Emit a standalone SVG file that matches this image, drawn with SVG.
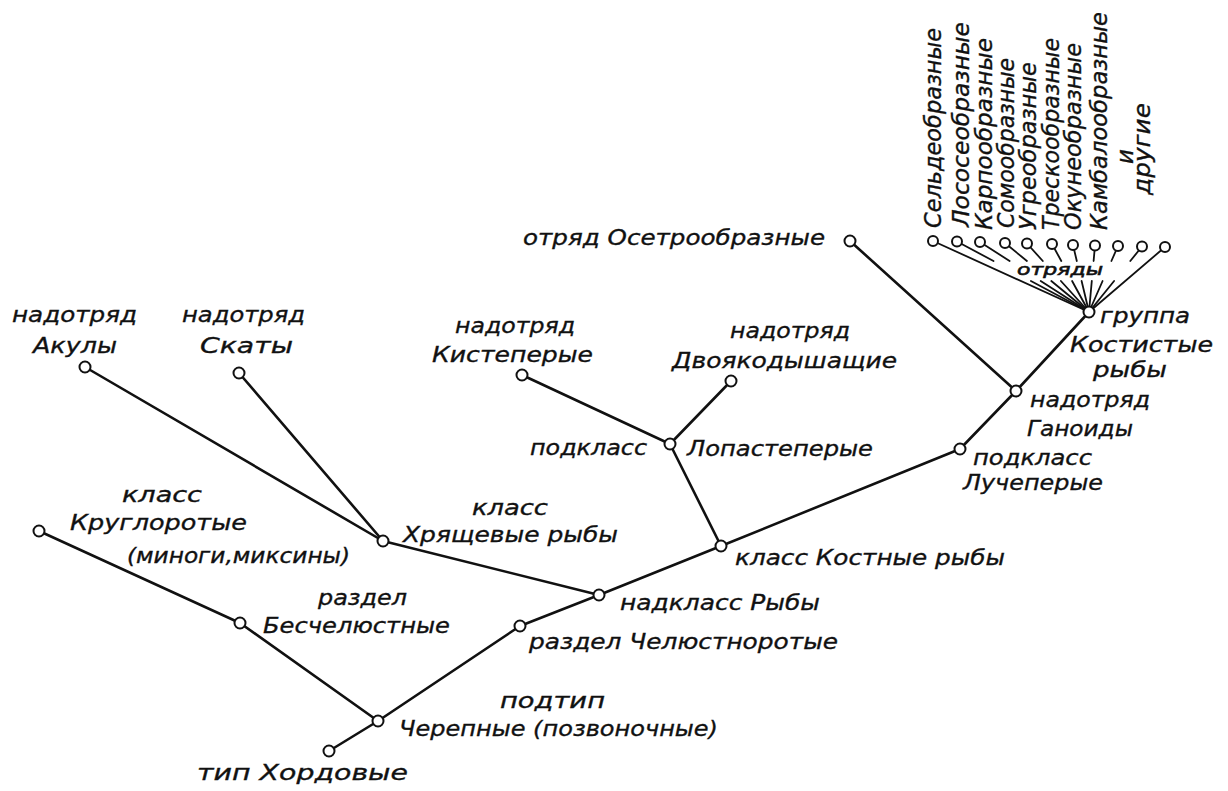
<svg xmlns="http://www.w3.org/2000/svg" width="1228" height="791" viewBox="0 0 1228 791">
<style>
.t{font-family:"DejaVu Sans","Liberation Sans",sans-serif;font-style:italic;font-size:22px;fill:#111;stroke:#111;stroke-width:0.35}
.v{font-size:23px}
.s{font-size:16px;stroke-width:0.6}
.c line{stroke:#111;stroke-width:2.6;stroke-linecap:round}
.c .o line{stroke-width:1.8}
.n circle{fill:#fff;stroke:#111;stroke-width:2}
</style>
<rect width="1228" height="791" fill="#fff"/>
<g id="connectors" class="c">
<line x1="329" y1="751" x2="378" y2="721"/>
<line x1="378" y1="721" x2="240" y2="623"/>
<line x1="240" y1="623" x2="39" y2="531"/>
<line x1="378" y1="721" x2="520" y2="626"/>
<line x1="520" y1="626" x2="599" y2="595"/>
<line x1="599" y1="595" x2="383" y2="541"/>
<line x1="383" y1="541" x2="85" y2="367"/>
<line x1="383" y1="541" x2="239" y2="373"/>
<line x1="599" y1="595" x2="721" y2="546"/>
<line x1="721" y1="546" x2="670" y2="444"/>
<line x1="670" y1="444" x2="522" y2="375"/>
<line x1="670" y1="444" x2="731" y2="381"/>
<line x1="721" y1="546" x2="960" y2="449"/>
<line x1="960" y1="449" x2="1016" y2="391"/>
<line x1="1016" y1="391" x2="850" y2="241"/>
<line x1="1016" y1="391" x2="1089" y2="312"/>
<g class="o">
<line x1="933" y1="241" x2="1089" y2="312"/>
<line x1="1165" y1="247" x2="1089" y2="312"/>
<line x1="957" y1="241.5" x2="993.5" y2="261"/>
<line x1="980" y1="242" x2="1009.6" y2="261"/>
<line x1="1005" y1="243" x2="1026.9" y2="261"/>
<line x1="1027" y1="243.5" x2="1042.8" y2="261"/>
<line x1="1052" y1="244" x2="1061.3" y2="261"/>
<line x1="1073" y1="245" x2="1076.8" y2="261"/>
<line x1="1095" y1="245.5" x2="1093.6" y2="261"/>
<line x1="1118" y1="246" x2="1111.4" y2="261"/>
<line x1="1142" y1="246.5" x2="1130.3" y2="261"/>
<line x1="1030.9" y1="281" x2="1089" y2="312"/>
<line x1="1040.7" y1="281" x2="1089" y2="312"/>
<line x1="1051.3" y1="281" x2="1089" y2="312"/>
<line x1="1060.9" y1="281" x2="1089" y2="312"/>
<line x1="1072.1" y1="281" x2="1089" y2="312"/>
<line x1="1081.6" y1="281" x2="1089" y2="312"/>
<line x1="1091.8" y1="281" x2="1089" y2="312"/>
<line x1="1102.6" y1="281" x2="1089" y2="312"/>
<line x1="1114.1" y1="281" x2="1089" y2="312"/>
</g>
</g>
<g class="n">
<g id="n-hordovye"><circle cx="329" cy="751" r="5.5"/><text class="t" x="197" y="780" textLength="211" lengthAdjust="spacingAndGlyphs">тип Хордовые</text></g>
<g id="n-cherepnye"><circle cx="378" cy="721" r="5.5"/><text class="t" x="500" y="708" textLength="105" lengthAdjust="spacingAndGlyphs">подтип</text><text class="t" x="399" y="736" textLength="319" lengthAdjust="spacingAndGlyphs">Черепные (позвоночные)</text></g>
<g id="n-beschelyustnye"><circle cx="240" cy="623" r="5.5"/><text class="t" x="318" y="605" textLength="89" lengthAdjust="spacingAndGlyphs">раздел</text><text class="t" x="263" y="633" textLength="187" lengthAdjust="spacingAndGlyphs">Бесчелюстные</text></g>
<g id="n-krugloroty"><circle cx="39" cy="531" r="5.5"/><text class="t" x="122" y="502" textLength="80" lengthAdjust="spacingAndGlyphs">класс</text><text class="t" x="70" y="530" textLength="177" lengthAdjust="spacingAndGlyphs">Круглоротые</text><text class="t" x="127" y="563" textLength="223" lengthAdjust="spacingAndGlyphs">(миноги,миксины)</text></g>
<g id="n-chelyustnorotye"><circle cx="520" cy="626" r="5.5"/><text class="t" x="529" y="649" textLength="309" lengthAdjust="spacingAndGlyphs">раздел  Челюстноротые</text></g>
<g id="n-ryby"><circle cx="599" cy="595" r="5.5"/><text class="t" x="620" y="610" textLength="200" lengthAdjust="spacingAndGlyphs">надкласс Рыбы</text></g>
<g id="n-hryaschevye"><circle cx="383" cy="541" r="5.5"/><text class="t" x="472" y="515" textLength="76" lengthAdjust="spacingAndGlyphs">класс</text><text class="t" x="403" y="542" textLength="215" lengthAdjust="spacingAndGlyphs">Хрящевые рыбы</text></g>
<g id="n-akuly"><circle cx="85" cy="367" r="5.5"/><text class="t" x="12" y="322" textLength="125" lengthAdjust="spacingAndGlyphs">надотряд</text><text class="t" x="33" y="353" textLength="84" lengthAdjust="spacingAndGlyphs">Акулы</text></g>
<g id="n-skaty"><circle cx="239" cy="373" r="5.5"/><text class="t" x="182" y="322" textLength="123" lengthAdjust="spacingAndGlyphs">надотряд</text><text class="t" x="200" y="353" textLength="93" lengthAdjust="spacingAndGlyphs">Скаты</text></g>
<g id="n-kostnye"><circle cx="721" cy="546" r="5.5"/><text class="t" x="735" y="565" textLength="270" lengthAdjust="spacingAndGlyphs">класс Костные рыбы</text></g>
<g id="n-lopasteperye"><circle cx="670" cy="444" r="5.5"/><text class="t" x="530" y="455" textLength="117" lengthAdjust="spacingAndGlyphs">подкласс</text><text class="t" x="687" y="456" textLength="186" lengthAdjust="spacingAndGlyphs">Лопастеперые</text></g>
<g id="n-kisteperye"><circle cx="522" cy="375" r="5.5"/><text class="t" x="455" y="333" textLength="120" lengthAdjust="spacingAndGlyphs">надотряд</text><text class="t" x="432" y="362" textLength="161" lengthAdjust="spacingAndGlyphs">Кистеперые</text></g>
<g id="n-dvoyakodyshaschie"><circle cx="731" cy="381" r="5.5"/><text class="t" x="730" y="338" textLength="120" lengthAdjust="spacingAndGlyphs">надотряд</text><text class="t" x="672" y="368" textLength="225" lengthAdjust="spacingAndGlyphs">Двоякодышащие</text></g>
<g id="n-lucheperye"><circle cx="960" cy="449" r="5.5"/><text class="t" x="973" y="465" textLength="119" lengthAdjust="spacingAndGlyphs">подкласс</text><text class="t" x="963" y="490" textLength="140" lengthAdjust="spacingAndGlyphs">Лучеперые</text></g>
<g id="n-ganoidy"><circle cx="1016" cy="391" r="5.5"/><text class="t" x="1030" y="407" textLength="120" lengthAdjust="spacingAndGlyphs">надотряд</text><text class="t" x="1027" y="436" textLength="106" lengthAdjust="spacingAndGlyphs">Ганоиды</text></g>
<g id="n-osetroobraznye"><circle cx="850" cy="241" r="5.5"/><text class="t" x="523" y="245" textLength="302" lengthAdjust="spacingAndGlyphs">отряд Осетрообразные</text></g>
<g id="n-kostistye"><circle cx="1089" cy="312" r="5.5"/><text class="t" x="1100" y="323" textLength="90" lengthAdjust="spacingAndGlyphs">группа</text><text class="t" x="1070" y="352" textLength="143" lengthAdjust="spacingAndGlyphs">Костистые</text><text class="t" x="1093" y="377" textLength="74" lengthAdjust="spacingAndGlyphs">рыбы</text><text class="t s" x="1017" y="275" textLength="86" lengthAdjust="spacingAndGlyphs">отряды</text></g>
<g id="n-o1"><circle cx="933" cy="241" r="5"/><text class="t v" transform="translate(941,228) rotate(-90)" textLength="200" lengthAdjust="spacingAndGlyphs">Сельдеобразные</text></g>
<g id="n-o2"><circle cx="957" cy="241.5" r="5"/><text class="t v" transform="translate(969,227) rotate(-90)" textLength="205" lengthAdjust="spacingAndGlyphs">Лососеобразные</text></g>
<g id="n-o3"><circle cx="980" cy="242" r="5"/><text class="t v" transform="translate(992,230) rotate(-90)" textLength="192" lengthAdjust="spacingAndGlyphs">Карпообразные</text></g>
<g id="n-o4"><circle cx="1005" cy="243" r="5"/><text class="t v" transform="translate(1014,228) rotate(-90)" textLength="170" lengthAdjust="spacingAndGlyphs">Сомообразные</text></g>
<g id="n-o5"><circle cx="1027" cy="243.5" r="5"/><text class="t v" transform="translate(1036,230) rotate(-90)" textLength="168" lengthAdjust="spacingAndGlyphs">Угреобразные</text></g>
<g id="n-o6"><circle cx="1052" cy="244" r="5"/><text class="t v" transform="translate(1059,230) rotate(-90)" textLength="192" lengthAdjust="spacingAndGlyphs">Трескообразные</text></g>
<g id="n-o7"><circle cx="1073" cy="245" r="5"/><text class="t v" transform="translate(1081,230) rotate(-90)" textLength="187" lengthAdjust="spacingAndGlyphs">Окунеобразные</text></g>
<g id="n-o8"><circle cx="1095" cy="245.5" r="5"/><text class="t v" transform="translate(1107,230) rotate(-90)" textLength="218" lengthAdjust="spacingAndGlyphs">Камбалообразные</text></g>
<g id="n-o9"><circle cx="1118" cy="246" r="5"/><text class="t v" transform="translate(1133,164) rotate(-90)">и</text></g>
<g id="n-o10"><circle cx="1142" cy="246.5" r="5"/><text class="t v" transform="translate(1150,195) rotate(-90)" textLength="92" lengthAdjust="spacingAndGlyphs">другие</text></g>
<g id="n-o11"><circle cx="1165" cy="247" r="5"/></g>
</g>
</svg>
